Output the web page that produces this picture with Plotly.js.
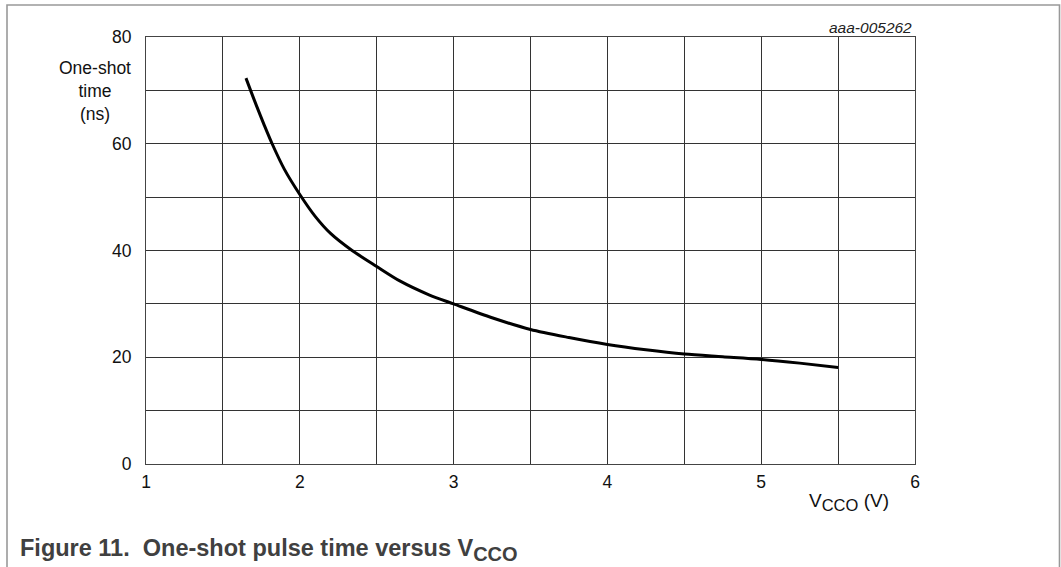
<!DOCTYPE html>
<html>
<head>
<meta charset="utf-8">
<script src="https://cdn.plot.ly/plotly-3.0.1.min.js"></script>
<style>
  html, body { margin: 0; padding: 0; background: #fff; }
  #chart { width: 1061px; height: 567px; }
</style>
</head>
<body>
<div id="chart"></div>
<script>
// Data
const vcco = [1.65, 1.68, 1.72, 1.77, 1.82, 1.9, 2.0, 2.1, 2.2, 2.34, 2.5, 2.65, 2.84, 3.0, 3.25, 3.5, 3.75, 4.0, 4.25, 4.5, 4.75, 5.0, 5.25, 5.5];
const oneShotNs = [72.3, 70.0, 67.0, 63.4, 60.0, 55.2, 50.5, 46.4, 43.2, 40.0, 37.0, 34.3, 31.7, 30.0, 27.4, 25.2, 23.7, 22.4, 21.4, 20.6, 20.1, 19.6, 18.9, 18.1];
const xTickVals = [1, 2, 3, 4, 5, 6];
const xTickText = ['1', '2', '3', '4', '5', '6'];
const yTickVals = [0, 20, 40, 60, 80];
const yTickText = ['0', '20', '40', '60', '80'];

const W = 1061, H = 567;
const M = { l: 146, r: 146, t: 37, b: 103 };
const xp = px => (px - M.l) / (W - M.l - M.r);
const yp = py => (H - M.b - py) / (H - M.t - M.b);

const font = 'Liberation Sans, Arial, sans-serif';

const trace = {
  x: vcco,
  y: oneShotNs,
  type: 'scatter',
  mode: 'lines',
  line: { color: '#000', width: 3, shape: 'spline', smoothing: 0.8 },
  hoverinfo: 'skip'
};

const layout = {
  width: W,
  height: H,
  margin: M,
  paper_bgcolor: '#fff',
  plot_bgcolor: '#fff',
  showlegend: false,
  font: { family: font, size: 17, color: '#111' },
  xaxis: {
    range: [1, 6],
    tickvals: xTickVals,
    ticktext: xTickText,
    showgrid: true,
    gridcolor: '#333',
    gridwidth: 1,
    minor: { tick0: 1, dtick: 0.5, showgrid: true, gridcolor: '#333', gridwidth: 1 },
    showline: true,
    linecolor: '#444',
    linewidth: 1,
    mirror: true,
    ticks: '',
    zeroline: false,
    ticklabelstandoff: 2,
    tickfont: { family: font, size: 17.5, color: '#111' },
    fixedrange: true
  },
  yaxis: {
    range: [0, 80],
    tickvals: yTickVals,
    ticktext: yTickText,
    showgrid: true,
    gridcolor: '#333',
    gridwidth: 1,
    minor: { tick0: 0, dtick: 10, showgrid: true, gridcolor: '#333', gridwidth: 1 },
    showline: true,
    linecolor: '#444',
    linewidth: 1,
    mirror: true,
    ticks: '',
    zeroline: false,
    ticklabelstandoff: 10,
    tickfont: { family: font, size: 17.5, color: '#111' },
    fixedrange: true
  },
  shapes: [
    {
      type: 'rect', xref: 'paper', yref: 'paper',
      x0: xp(7), x1: xp(1059.5), y0: yp(600), y1: yp(5),
      line: { color: '#999', width: 1.6 }, fillcolor: 'rgba(0,0,0,0)', layer: 'below'
    }
  ],
  annotations: [
    {
      text: 'One-shot<br>time<br>(ns)',
      xref: 'paper', yref: 'paper', x: xp(95), y: yp(90.5),
      xanchor: 'center', yanchor: 'middle', showarrow: false, align: 'center',
      font: { family: font, size: 17.5, color: '#111' }
    },
    {
      text: '<i>aaa-005262</i>',
      xref: 'paper', yref: 'paper', x: xp(914), y: yp(28),
      xanchor: 'right', yanchor: 'middle', showarrow: false,
      font: { family: font, size: 15.5, color: '#222' }
    },
    {
      text: 'V<sub><span style="font-size:16.5px">CCO</span></sub> (V)',
      xref: 'paper', yref: 'paper', x: xp(807), y: yp(502),
      xanchor: 'left', yanchor: 'middle', showarrow: false,
      font: { family: font, size: 19, color: '#111' }
    },
    {
      text: '<b>Figure 11.  One-shot pulse time versus V<sub><span style="font-size:20px">CCO</span></sub></b>',
      xref: 'paper', yref: 'paper', x: xp(18), y: yp(550),
      xanchor: 'left', yanchor: 'middle', showarrow: false,
      font: { family: font, size: 23.5, color: '#404040' }
    }
  ]
};

Plotly.newPlot('chart', [trace], layout, { displayModeBar: false, staticPlot: true });
</script>
</body>
</html>
